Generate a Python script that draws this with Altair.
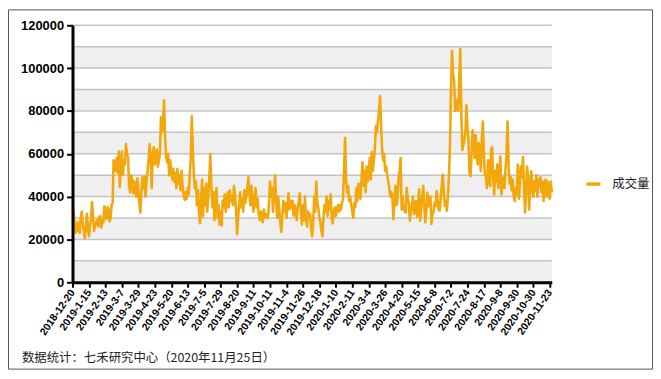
import json
import pandas as pd
import altair as alt

# daily trading volume, one value per trading day
values = [
    35000, 33000, 28000, 23000, 26000, 28000, 24000, 23000, 30000, 33000,
    27000, 24000, 20500, 26000, 32000, 25000, 21500, 27000, 29000, 37500,
    31000, 24000, 27000, 28000, 29000, 26000, 30500, 31000, 25500, 29000,
    28000, 35500, 32000, 29500, 35000, 34000, 28500, 30000, 36000, 37000,
    57000, 55000, 52000, 58000, 51000, 61000, 44500, 55000, 61000, 50000,
    57000, 55000, 64500, 60000, 58500, 45000, 42000, 50000, 48000, 41500,
    47000, 43000, 40000, 48500, 44000, 37000, 32500, 42000, 49000, 44000,
    49500, 40000, 47000, 52000, 57000, 64500, 58000, 44000, 60000, 63000,
    55000, 58000, 62000, 54000, 57000, 60000, 77000, 70000, 74000, 85000,
    68000, 58500, 56000, 60000, 50000, 57000, 52000, 48000, 53000, 47000,
    51000, 44000, 53000, 46000, 50000, 43000, 52000, 45000, 41000, 38500,
    42000, 39000, 44000, 41000, 50000, 58000, 77500, 62000, 50000, 44000,
    47000, 36000, 43000, 33000, 27500, 38000, 48000, 31000, 44000, 36000,
    46000, 33000, 40000, 48000, 60000, 45000, 35000, 42000, 29000, 38000,
    44000, 30000, 36000, 27000, 33000, 26500, 38000, 35000, 41000, 33000,
    37000, 42000, 35000, 43000, 38000, 40000, 36000, 45000, 41000, 34000,
    22500, 30000, 36000, 42000, 35000, 39000, 33000, 43000, 37000, 40000,
    44000, 49000, 41000, 36000, 45000, 38000, 33000, 40000, 44000, 35000,
    39000, 32000, 29000, 33000, 31000, 28000, 34000, 30000, 32000, 31500,
    30000, 36000, 47000, 40000, 44000, 33000, 42000, 50000, 38000, 30000,
    40000, 34000, 28000, 23500, 31000, 38000, 33000, 37000, 30000, 36000,
    41500, 34000, 38000, 35000, 38000, 31000, 36000, 33000, 29000, 35000,
    38000, 41500, 33000, 27000, 36000, 29000, 40000, 30000, 26000, 33000,
    30000, 32000, 25000, 21500, 28000, 40000, 33000, 47000, 37000, 35000,
    30000, 28000, 24000, 21500, 30000, 36000, 33000, 40000, 31000, 38000,
    34000, 41000, 30000, 27500, 33000, 35000, 31000, 34000, 36000, 33000,
    36000, 34000, 37000, 39000, 52000, 67500, 48000, 42000, 45000, 38000,
    40000, 36000, 33000, 30000, 37000, 35000, 44000, 38000, 46000, 42000,
    39000, 48000, 56000, 45000, 52000, 42000, 54000, 47000, 51000, 58000,
    48000, 60800, 52000, 57000, 62000, 73000, 70000, 75000, 80000, 87000,
    74000, 62000, 57000, 60000, 52000, 54000, 50000, 47000, 44000, 40000,
    42000, 40000, 29500, 38000, 45000, 36000, 38800, 48000, 52000, 58000,
    34000, 40000, 35000, 33000, 32600, 44000, 39000, 37000, 28800, 33000,
    35700, 40000, 31800, 35500, 38000, 30500, 36000, 43400, 28800, 34000,
    40000, 45000, 36000, 28000, 33000, 41800, 35500, 38000, 40000, 27200,
    32000, 32600, 37000, 35500, 42600, 38800, 34000, 33500, 39000, 45000,
    50300, 43000, 35700, 38000, 33400, 40000, 50000, 63400, 89500, 108000,
    98000, 94000, 80000, 85000, 82000, 80000, 94000, 109000, 80000, 61800,
    64000, 66500, 70000, 82600, 72000, 66500, 51000, 49500, 60000, 71000,
    66000, 58000, 68800, 60000, 55000, 65000, 61800, 52000, 67000, 75000,
    60000, 50000, 49500, 44000, 57000, 50000, 45000, 62000, 63000, 48000,
    41000, 52000, 47000, 55000, 44000, 50000, 58800, 41000, 46000, 49000,
    44000, 53000, 60000, 75000, 55000, 46000, 49000, 43000, 48000, 40000,
    38000, 44000, 41000, 55000, 39000, 46000, 54000, 49000, 58500, 45000,
    32600, 42000, 54000, 48000, 34000, 44000, 51800, 45000, 40000, 47000,
    43000, 50000, 40000, 48000, 45000, 49000, 42000, 47000, 38000, 46000,
    48000, 40000, 47000, 43000, 39000, 47000, 42000,
]

tick_labels = [
    "2018-12-20", "2019-1-15", "2019-2-13", "2019-3-7", "2019-3-29",
    "2019-4-23", "2019-5-20", "2019-6-13", "2019-7-5", "2019-7-29",
    "2019-8-20", "2019-9-11", "2019-10-11", "2019-11-4", "2019-11-26",
    "2019-12-18", "2020-1-10", "2020-2-11", "2020-3-4", "2020-3-26",
    "2020-4-20", "2020-5-15", "2020-6-8", "2020-7-2", "2020-7-24",
    "2020-8-17", "2020-9-8", "2020-9-30", "2020-10-30", "2020-11-23",
]
label_step = 16
y_ticks = [0, 20000, 40000, 60000, 80000, 100000, 120000]
grid_vals = [10000, 20000, 30000, 40000, 50000, 60000, 70000, 80000, 90000, 100000, 110000, 120000]
band_lo = [0, 20000, 40000, 60000, 80000, 100000]
series_name = "成交量"
source_text = "数据统计：七禾研究中心（2020年11月25日）"

W, H = 483, 259
PAD = {"left": 65, "top": 16, "right": 102, "bottom": 88}
n = len(values)
LINE_COLOR = "#f2a80d"

df = pd.DataFrame({"i": list(range(n)), "v": values, "s": [series_name] * n})
bands = pd.DataFrame({"lo": band_lo, "hi": [b + 10000 for b in band_lo]})
grid = pd.DataFrame({"g": grid_vals})

xscale = alt.Scale(domain=[0, n - 1], nice=False, zero=False)
yscale = alt.Scale(domain=[0, 120000], nice=False)

label_expr = json.dumps(tick_labels) + "[round(datum.value / %d)]" % label_step

y_axis = alt.Axis(values=y_ticks, format="d", labelFont="Liberation Sans",
                  labelFontWeight="bold", labelFontSize=13, labelColor="#000",
                  labelPadding=3, domainColor="#000", domainWidth=3,
                  tickColor="#000", tickWidth=2, tickSize=6, grid=False, zindex=2)

x_axis = alt.Axis(values=list(range(0, n, label_step)), labelExpr=label_expr,
                  labelAngle=-55, labelAlign="right", labelBaseline="middle",
                  labelFont="Liberation Sans", labelFontWeight="bold",
                  labelFontSize=10.5, labelColor="#000", labelPadding=3,
                  labelOverlap=False, labelFlush=False, labelBound=False,
                  domainColor="#000", domainWidth=3, tickColor="#000",
                  tickWidth=2, tickSize=5, grid=False, zindex=2)

band_layer = alt.Chart(bands).mark_rect(color="#efefef").encode(
    x=alt.value(0), x2=alt.value(W),
    y=alt.Y("lo:Q", scale=yscale, axis=y_axis, title=None),
    y2="hi:Q",
)

grid_layer = alt.Chart(grid).mark_rule(color="#c4c4c4", strokeWidth=1.5).encode(
    x=alt.value(0), x2=alt.value(W),
    y=alt.Y("g:Q", scale=yscale, axis=y_axis, title=None),
)

line_layer = alt.Chart(df).mark_line(strokeWidth=2.6, strokeJoin="round").encode(
    x=alt.X("i:Q", scale=xscale, title=None, axis=x_axis),
    y=alt.Y("v:Q", scale=yscale, title=None, axis=y_axis),
    color=alt.Color("s:N", scale=alt.Scale(range=[LINE_COLOR]),
                    legend=alt.Legend(title=None, orient="none", legendX=516, legendY=151,
                                      symbolType="stroke", symbolStrokeWidth=3.5,
                                      symbolSize=200, labelFontSize=12.5,
                                      labelFont="Noto Sans CJK SC", labelColor="#222",
                                      labelOffset=10, padding=0)),
)

frame_layer = alt.Chart(pd.DataFrame({"a": [0]})).mark_rect(
    filled=False, stroke="#555", strokeWidth=1
).encode(
    x=alt.value(-PAD["left"] + 0.5), x2=alt.value(W + PAD["right"] - 0.5),
    y=alt.value(-PAD["top"] + 0.5), y2=alt.value(H + PAD["bottom"] - 0.5),
)

source_layer = alt.Chart(pd.DataFrame({"t": [source_text]})).mark_text(
    align="left", baseline="middle", fontSize=12.5, font="Noto Sans CJK SC", color="#222"
).encode(x=alt.value(-51), y=alt.value(335), text="t:N")

chart = alt.layer(band_layer, grid_layer, line_layer, frame_layer, source_layer).properties(
    width=W, height=H,
    autosize=alt.AutoSizeParams(type="none"),
    padding=PAD,
).configure_view(stroke=None)

chart.save("out.html", embed_options={"renderer": "svg", "actions": False})
